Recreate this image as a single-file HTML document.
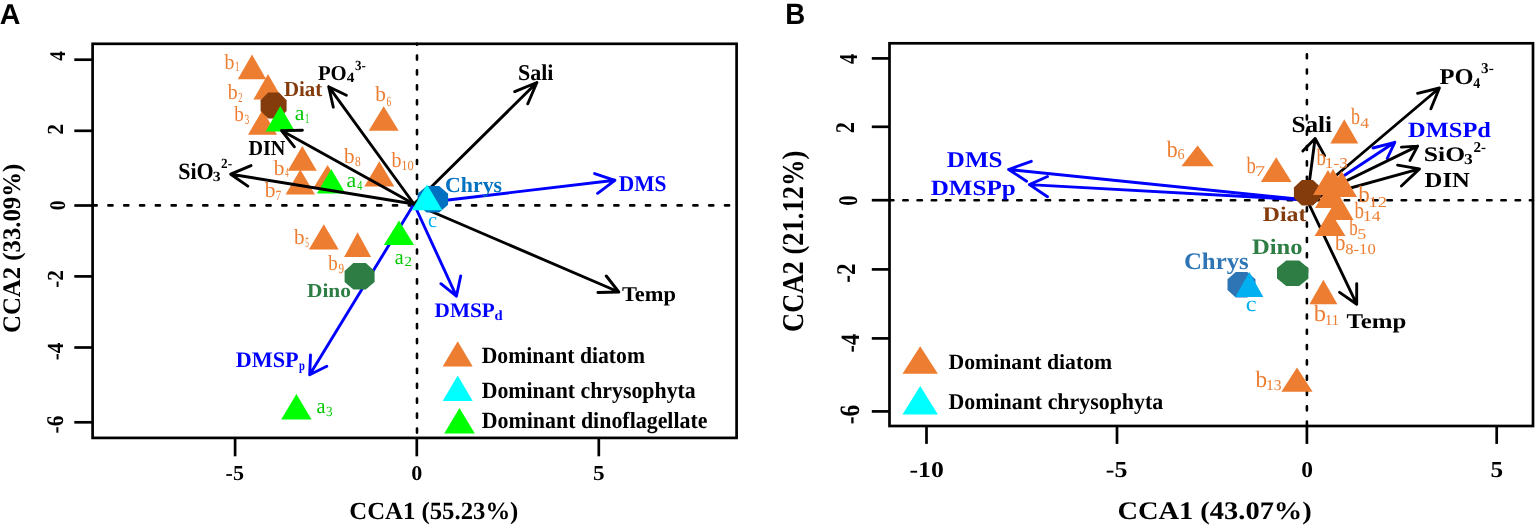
<!DOCTYPE html>
<html><head><meta charset="utf-8"><title>CCA biplots</title>
<style>html,body{margin:0;padding:0;background:#fff;}svg{display:block;}</style></head>
<body><svg width="1535" height="527" viewBox="0 0 1535 527" text-rendering="geometricPrecision"><rect x="92.6" y="43.8" width="644.0" height="394.09999999999997" fill="none" stroke="#000" stroke-width="2.7"/><line x1="74.3" y1="59.7" x2="92.6" y2="59.7" stroke="#000" stroke-width="2.7" /><line x1="74.3" y1="130.8" x2="92.6" y2="130.8" stroke="#000" stroke-width="2.7" /><line x1="74.3" y1="205.5" x2="92.6" y2="205.5" stroke="#000" stroke-width="2.7" /><line x1="74.3" y1="276.4" x2="92.6" y2="276.4" stroke="#000" stroke-width="2.7" /><line x1="74.3" y1="347.5" x2="92.6" y2="347.5" stroke="#000" stroke-width="2.7" /><line x1="74.3" y1="422.3" x2="92.6" y2="422.3" stroke="#000" stroke-width="2.7" /><line x1="235.1" y1="437.9" x2="235.1" y2="456.3" stroke="#000" stroke-width="2.7" /><line x1="416.8" y1="437.9" x2="416.8" y2="456.3" stroke="#000" stroke-width="2.7" /><line x1="598.8" y1="437.9" x2="598.8" y2="456.3" stroke="#000" stroke-width="2.7" /><line x1="92.6" y1="205.4" x2="736.6" y2="205.4" stroke="#000" stroke-width="2.6" stroke-dasharray="4.1 11.71" stroke-dashoffset="0" stroke-linecap="round"/><line x1="417.0" y1="43.8" x2="417.0" y2="437.9" stroke="#000" stroke-width="2.6" stroke-dasharray="4.1 10.82" stroke-dashoffset="3.22" stroke-linecap="round"/><rect x="889.5" y="43.3" width="643.5" height="382.7" fill="none" stroke="#000" stroke-width="2.7"/><line x1="871.8" y1="58.4" x2="889.5" y2="58.4" stroke="#000" stroke-width="2.7" /><line x1="871.8" y1="126.8" x2="889.5" y2="126.8" stroke="#000" stroke-width="2.7" /><line x1="871.8" y1="200.2" x2="889.5" y2="200.2" stroke="#000" stroke-width="2.7" /><line x1="871.8" y1="269.4" x2="889.5" y2="269.4" stroke="#000" stroke-width="2.7" /><line x1="871.8" y1="338.4" x2="889.5" y2="338.4" stroke="#000" stroke-width="2.7" /><line x1="871.8" y1="411.4" x2="889.5" y2="411.4" stroke="#000" stroke-width="2.7" /><line x1="926.5" y1="426.0" x2="926.5" y2="443.9" stroke="#000" stroke-width="2.7" /><line x1="1117.0" y1="426.0" x2="1117.0" y2="443.9" stroke="#000" stroke-width="2.7" /><line x1="1306.9" y1="426.0" x2="1306.9" y2="443.9" stroke="#000" stroke-width="2.7" /><line x1="1496.7" y1="426.0" x2="1496.7" y2="443.9" stroke="#000" stroke-width="2.7" /><line x1="889.5" y1="200.3" x2="1533.0" y2="200.3" stroke="#000" stroke-width="2.6" stroke-dasharray="4.4 9.84" stroke-dashoffset="0.44" stroke-linecap="round"/><line x1="1306.9" y1="43.3" x2="1306.9" y2="426.0" stroke="#000" stroke-width="2.6" stroke-dasharray="4.0 11.31" stroke-dashoffset="4.4" stroke-linecap="round"/><path d="M1307.0,200.0L1315.1,138.5M1302.8,150.9L1315.1,138.5L1324.6,155.6" stroke="#000" stroke-width="2.9" fill="none" stroke-linecap="round" stroke-linejoin="round"/><path d="M1307.0,200.0L1356.7,304.2M1356.7,283.8L1356.7,304.2L1339.6,292.4" stroke="#000" stroke-width="2.9" fill="none" stroke-linecap="round" stroke-linejoin="round"/><path d="M414.0,204.0L614.9,180.3M594.6,173.6L614.9,180.3L597.6,193.3" stroke="#0000FF" stroke-width="2.9" fill="none" stroke-linecap="round" stroke-linejoin="round"/><path d="M414.0,204.0L309.7,374.8M310.5,354.9L309.7,374.8L326.8,366.3" stroke="#0000FF" stroke-width="2.9" fill="none" stroke-linecap="round" stroke-linejoin="round"/><path d="M414.0,204.0L456.4,296.2M440.9,283.7L456.4,296.2L460.7,276.0" stroke="#0000FF" stroke-width="2.9" fill="none" stroke-linecap="round" stroke-linejoin="round"/><path d="M1307.0,200.0L1008.6,169.5M1031.3,161.3L1008.6,169.5L1026.6,181.2" stroke="#0000FF" stroke-width="2.9" fill="none" stroke-linecap="round" stroke-linejoin="round"/><path d="M1307.0,200.0L1029.4,184.6M1047.5,176.5L1029.4,184.6L1047.5,196.8" stroke="#0000FF" stroke-width="2.9" fill="none" stroke-linecap="round" stroke-linejoin="round"/><path d="M1307.0,200.0L1439.4,88.0M1417.6,93.3L1439.4,88.0L1430.9,108.8" stroke="#000" stroke-width="2.9" fill="none" stroke-linecap="round" stroke-linejoin="round"/><path d="M1307.0,200.0L1394.8,142.3M1373.0,148.0L1394.8,142.3L1387.2,158.5" stroke="#0000FF" stroke-width="2.9" fill="none" stroke-linecap="round" stroke-linejoin="round"/><path d="M1307.0,200.0L1417.6,146.1M1401.4,147.1L1417.6,146.1L1410.0,160.4" stroke="#000" stroke-width="2.9" fill="none" stroke-linecap="round" stroke-linejoin="round"/><path d="M1307.0,200.0L1419.5,168.9M1397.6,165.1L1419.5,168.9L1401.4,186.0" stroke="#000" stroke-width="2.9" fill="none" stroke-linecap="round" stroke-linejoin="round"/><polygon points="1320.9,198.0 1313.0,205.4 1301.8,205.4 1293.9,198.0 1293.9,187.5 1301.8,180.1 1313.0,180.1 1320.9,187.5" fill="#843C0C"/><polygon points="252.0,54.5 237.8,79.2 266.2,79.2" fill="#ED7D31"/><polygon points="268.0,74.0 253.4,99.5 282.6,99.5" fill="#ED7D31"/><polygon points="262.5,110.0 248.0,134.7 277.0,134.7" fill="#ED7D31"/><polygon points="302.3,146.0 287.8,170.8 316.8,170.8" fill="#ED7D31"/><polygon points="300.3,169.5 285.6,194.5 315.0,194.5" fill="#ED7D31"/><polygon points="327.6,165.0 313.4,188.0 341.8,188.0" fill="#ED7D31"/><polygon points="383.7,106.3 368.7,130.8 398.7,130.8" fill="#ED7D31"/><polygon points="379.3,161.3 364.3,186.5 394.3,186.5" fill="#ED7D31"/><polygon points="323.8,224.2 308.9,249.5 338.7,249.5" fill="#ED7D31"/><polygon points="357.6,232.2 344.1,257.1 371.1,257.1" fill="#ED7D31"/><polygon points="457.7,341.2 442.7,366.4 472.7,366.4" fill="#ED7D31"/><polygon points="457.7,375.5 442.7,401.0 472.7,401.0" fill="#00FFFF"/><polygon points="459.5,408.0 444.2,433.5 474.8,433.5" fill="#00FF00"/><polygon points="1197.6,145.5 1181.4,166.3 1213.8,166.3" fill="#ED7D31"/><polygon points="1276.2,157.2 1260.8,182.0 1291.6,182.0" fill="#ED7D31"/><polygon points="1344.3,119.3 1330.3,143.4 1358.3,143.4" fill="#ED7D31"/><polygon points="1328.0,170.0 1313.0,195.0 1343.0,195.0" fill="#ED7D31"/><polygon points="1333.0,169.0 1318.0,194.0 1348.0,194.0" fill="#ED7D31"/><polygon points="1341.5,171.0 1326.0,197.0 1357.0,197.0" fill="#ED7D31"/><polygon points="1330.0,183.0 1315.0,208.0 1345.0,208.0" fill="#ED7D31"/><polygon points="1339.0,195.0 1324.5,220.0 1353.5,220.0" fill="#ED7D31"/><polygon points="1330.0,211.0 1314.5,236.0 1345.5,236.0" fill="#ED7D31"/><polygon points="1323.4,279.7 1309.4,304.2 1337.4,304.2" fill="#ED7D31"/><polygon points="1297.0,367.5 1281.4,391.8 1312.6,391.8" fill="#ED7D31"/><polygon points="920.2,346.3 902.5,373.8 937.9,373.8" fill="#ED7D31"/><polygon points="920.2,386.0 902.5,414.6 937.9,414.6" fill="#00FFFF"/><polygon points="286.6,111.0 279.0,118.6 268.2,118.6 260.6,111.0 260.6,100.2 268.2,92.6 279.0,92.6 286.6,100.2" fill="#843C0C"/><polygon points="280.3,106.0 265.6,131.5 295.0,131.5" fill="#00FF00"/><polygon points="331.2,168.9 316.9,193.6 345.5,193.6" fill="#00FF00"/><polygon points="399.0,220.4 383.9,245.1 414.1,245.1" fill="#00FF00"/><polygon points="296.4,393.9 281.2,419.5 311.6,419.5" fill="#00FF00"/><path d="M414.0,204.0L328.7,86.7M333.3,107.2L328.7,86.7L346.4,95.2" stroke="#000" stroke-width="2.9" fill="none" stroke-linecap="round" stroke-linejoin="round"/><path d="M414.0,204.0L281.5,130.6M302.4,130.3L281.5,130.6L294.4,146.8" stroke="#000" stroke-width="2.9" fill="none" stroke-linecap="round" stroke-linejoin="round"/><path d="M414.0,204.0L230.7,174.2M251.0,165.6L230.7,174.2L247.8,186.1" stroke="#000" stroke-width="2.9" fill="none" stroke-linecap="round" stroke-linejoin="round"/><path d="M414.0,204.0L536.9,82.5M514.7,91.6L536.9,82.5L527.8,103.8" stroke="#000" stroke-width="2.9" fill="none" stroke-linecap="round" stroke-linejoin="round"/><path d="M414.0,204.0L618.8,292.0M606.3,276.0L618.8,292.0L597.9,292.5" stroke="#000" stroke-width="2.9" fill="none" stroke-linecap="round" stroke-linejoin="round"/><polygon points="374.6,281.9 365.8,289.6 353.4,289.6 344.6,281.9 344.6,270.9 353.4,263.1 365.8,263.1 374.6,270.9" fill="#2E7D45"/><polygon points="448.1,204.8 439.2,212.5 426.6,212.5 417.6,204.8 417.6,193.8 426.6,186.1 439.2,186.1 448.1,193.8" fill="#0070C0"/><polygon points="1308.4,278.6 1299.2,286.1 1286.2,286.1 1277.0,278.6 1277.0,268.0 1286.2,260.6 1299.2,260.6 1308.4,268.0" fill="#2E7D45"/><polygon points="1255.5,289.9 1247.3,297.4 1235.7,297.4 1227.5,289.9 1227.5,279.3 1235.7,271.9 1247.3,271.9 1255.5,279.3" fill="#2E75B6"/><polygon points="427.0,184.5 411.7,210.2 442.3,210.2" fill="#00FFFF"/><polygon points="1249.3,271.9 1235.3,297.0 1263.3,297.0" fill="#00B0F0"/><text transform="translate(-0.16,23.60) scale(0.9979,1)" font-family="'Liberation Sans', sans-serif" font-weight="bold" font-size="28.70" fill="#000">A</text><text transform="translate(349.36,518.80) scale(1.0006,1)" font-family="'Liberation Serif', serif" font-weight="bold" font-size="24.73" fill="#000">CCA1 (55.23%)</text><text transform="translate(19.70,332.94) rotate(-90) scale(0.9789,1)" font-family="'Liberation Serif', serif" font-weight="bold" font-size="25.30" fill="#000">CCA2 (33.09%)</text><text transform="translate(225.52,479.90) scale(1.0412,1)" font-family="'Liberation Serif', serif" font-weight="bold" font-size="21.23" fill="#000">-5</text><text transform="translate(411.21,479.90) scale(1.0590,1)" font-family="'Liberation Serif', serif" font-weight="bold" font-size="20.91" fill="#000">0</text><text transform="translate(592.97,479.90) scale(1.0990,1)" font-family="'Liberation Serif', serif" font-weight="bold" font-size="21.23" fill="#000">5</text><text transform="translate(64.70,60.69) rotate(-90) scale(0.8634,1)" font-family="'Liberation Serif', serif" font-weight="bold" font-size="22.42" fill="#000">4</text><text transform="translate(62.80,134.77) rotate(-90) scale(0.9408,1)" font-family="'Liberation Serif', serif" font-weight="bold" font-size="23.03" fill="#000">2</text><text transform="translate(64.60,210.19) rotate(-90) scale(0.8813,1)" font-family="'Liberation Serif', serif" font-weight="bold" font-size="22.42" fill="#000">0</text><text transform="translate(62.80,287.75) rotate(-90) scale(0.9205,1)" font-family="'Liberation Serif', serif" font-weight="bold" font-size="23.03" fill="#000">-2</text><text transform="translate(62.80,360.35) rotate(-90) scale(0.9192,1)" font-family="'Liberation Serif', serif" font-weight="bold" font-size="23.03" fill="#000">-4</text><text transform="translate(63.30,433.46) rotate(-90) scale(0.8959,1)" font-family="'Liberation Serif', serif" font-weight="bold" font-size="23.94" fill="#000">-6</text><text transform="translate(481.67,363.20) scale(0.9349,1)" font-family="'Liberation Serif', serif" font-weight="bold" font-size="23.21" fill="#000">Dominant diatom</text><text transform="translate(481.66,397.70) scale(0.9408,1)" font-family="'Liberation Serif', serif" font-weight="bold" font-size="23.21" fill="#000">Dominant chrysophyta</text><text transform="translate(481.66,427.80) scale(0.9446,1)" font-family="'Liberation Serif', serif" font-weight="bold" font-size="23.21" fill="#000">Dominant dinoflagellate</text><text transform="translate(317.88,79.90) scale(0.9852,1)" font-family="'Liberation Serif', serif" font-weight="bold" font-size="21.07" fill="#000">PO</text><text transform="translate(346.85,82.40) scale(1.0942,1)" font-family="'Liberation Serif', serif" font-weight="bold" font-size="14.00" fill="#000">4</text><text transform="translate(354.88,70.10) scale(0.9305,1)" font-family="'Liberation Serif', serif" font-weight="bold" font-size="14.00" fill="#000">3-</text><text transform="translate(283.88,96.30) scale(0.9727,1)" font-family="'Liberation Serif', serif" font-weight="bold" font-size="21.53" fill="#843C0C">Diat</text><text transform="translate(518.00,79.50) scale(0.9736,1)" font-family="'Liberation Serif', serif" font-weight="bold" font-size="22.60" fill="#000">Sali</text><text transform="translate(618.77,190.90) scale(0.9487,1)" font-family="'Liberation Serif', serif" font-weight="bold" font-size="22.60" fill="#0000FF">DMS</text><text transform="translate(445.11,191.80) scale(1.0061,1)" font-family="'Liberation Serif', serif" font-weight="bold" font-size="21.68" fill="#0070C0">Chrys</text><text transform="translate(428.09,227.30) scale(0.9428,1)" font-family="'Liberation Serif', serif" font-weight="normal" font-size="21.50" fill="#00B0F0">c</text><text transform="translate(248.40,154.80) scale(0.9503,1)" font-family="'Liberation Serif', serif" font-weight="bold" font-size="21.22" fill="#000">DIN</text><text transform="translate(178.20,178.50) scale(0.9441,1)" font-family="'Liberation Serif', serif" font-weight="bold" font-size="23.36" fill="#000">SiO</text><text transform="translate(212.77,180.80) scale(1.1296,1)" font-family="'Liberation Serif', serif" font-weight="bold" font-size="14.00" fill="#000">3</text><text transform="translate(221.07,167.50) scale(0.9398,1)" font-family="'Liberation Serif', serif" font-weight="bold" font-size="14.00" fill="#000">2-</text><text transform="translate(621.95,301.00) scale(1.0664,1)" font-family="'Liberation Serif', serif" font-weight="bold" font-size="21.07" fill="#000">Temp</text><text transform="translate(434.57,316.50) scale(1.0256,1)" font-family="'Liberation Serif', serif" font-weight="bold" font-size="20.76" fill="#0000FF">DMSP</text><text transform="translate(494.62,320.20) scale(1.0429,1)" font-family="'Liberation Serif', serif" font-weight="bold" font-size="14.00" fill="#0000FF">d</text><text transform="translate(235.66,366.90) scale(1.0042,1)" font-family="'Liberation Serif', serif" font-weight="bold" font-size="22.14" fill="#0000FF">DMSP</text><text transform="translate(298.89,370.00) scale(0.7563,1)" font-family="'Liberation Serif', serif" font-weight="bold" font-size="14.00" fill="#0000FF">p</text><text transform="translate(306.97,297.30) scale(1.0866,1)" font-family="'Liberation Serif', serif" font-weight="bold" font-size="19.69" fill="#2E7D45">Dino</text><text transform="translate(224.60,69.30) scale(0.9201,1)" font-family="'Liberation Serif', serif" font-weight="normal" font-size="21.50" fill="#ED7D31">b</text><text transform="translate(234.63,71.40) scale(0.6939,1)" font-family="'Liberation Serif', serif" font-weight="normal" font-size="14.00" fill="#ED7D31">1</text><text transform="translate(227.70,99.00) scale(0.9201,1)" font-family="'Liberation Serif', serif" font-weight="normal" font-size="21.50" fill="#ED7D31">b</text><text transform="translate(238.26,101.70) scale(0.6071,1)" font-family="'Liberation Serif', serif" font-weight="normal" font-size="14.00" fill="#ED7D31">2</text><text transform="translate(234.30,120.80) scale(0.8898,1)" font-family="'Liberation Serif', serif" font-weight="normal" font-size="21.50" fill="#ED7D31">b</text><text transform="translate(244.42,123.50) scale(0.6794,1)" font-family="'Liberation Serif', serif" font-weight="normal" font-size="14.00" fill="#ED7D31">3</text><text transform="translate(273.80,174.60) scale(0.9909,1)" font-family="'Liberation Serif', serif" font-weight="normal" font-size="21.50" fill="#ED7D31">b</text><text transform="translate(285.26,177.30) scale(0.4969,1)" font-family="'Liberation Serif', serif" font-weight="normal" font-size="14.00" fill="#ED7D31">4</text><text transform="translate(264.70,197.00) scale(1.0010,1)" font-family="'Liberation Serif', serif" font-weight="normal" font-size="21.50" fill="#ED7D31">b</text><text transform="translate(275.59,199.70) scale(0.8214,1)" font-family="'Liberation Serif', serif" font-weight="normal" font-size="14.00" fill="#ED7D31">7</text><text transform="translate(375.20,101.20) scale(0.9909,1)" font-family="'Liberation Serif', serif" font-weight="normal" font-size="21.50" fill="#ED7D31">b</text><text transform="translate(386.42,105.50) scale(0.6811,1)" font-family="'Liberation Serif', serif" font-weight="normal" font-size="14.00" fill="#ED7D31">6</text><text transform="translate(343.90,163.20) scale(0.9808,1)" font-family="'Liberation Serif', serif" font-weight="normal" font-size="21.50" fill="#ED7D31">b</text><text transform="translate(354.94,166.40) scale(0.8163,1)" font-family="'Liberation Serif', serif" font-weight="normal" font-size="14.00" fill="#ED7D31">8</text><text transform="translate(391.40,167.00) scale(0.9302,1)" font-family="'Liberation Serif', serif" font-weight="normal" font-size="21.50" fill="#ED7D31">b</text><text transform="translate(401.27,170.00) scale(0.8949,1)" font-family="'Liberation Serif', serif" font-weight="normal" font-size="14.00" fill="#ED7D31">10</text><text transform="translate(294.10,244.20) scale(0.9808,1)" font-family="'Liberation Serif', serif" font-weight="normal" font-size="21.50" fill="#ED7D31">b</text><text transform="translate(305.16,247.00) scale(0.5179,1)" font-family="'Liberation Serif', serif" font-weight="normal" font-size="14.00" fill="#ED7D31">5</text><text transform="translate(328.30,269.80) scale(0.8797,1)" font-family="'Liberation Serif', serif" font-weight="normal" font-size="21.50" fill="#ED7D31">b</text><text transform="translate(338.47,272.60) scale(0.7973,1)" font-family="'Liberation Serif', serif" font-weight="normal" font-size="14.00" fill="#ED7D31">9</text><text transform="translate(294.73,120.00) scale(1.0137,1)" font-family="'Liberation Serif', serif" font-weight="normal" font-size="21.50" fill="#00C800">a</text><text transform="translate(304.95,122.60) scale(0.5918,1)" font-family="'Liberation Serif', serif" font-weight="normal" font-size="14.00" fill="#00C800">1</text><text transform="translate(346.43,186.90) scale(1.0137,1)" font-family="'Liberation Serif', serif" font-weight="normal" font-size="21.50" fill="#00C800">a</text><text transform="translate(357.20,189.50) scale(0.7298,1)" font-family="'Liberation Serif', serif" font-weight="normal" font-size="14.00" fill="#00C800">4</text><text transform="translate(394.80,263.50) scale(0.9302,1)" font-family="'Liberation Serif', serif" font-weight="normal" font-size="21.50" fill="#00C800">a</text><text transform="translate(404.40,266.10) scale(1.0714,1)" font-family="'Liberation Serif', serif" font-weight="normal" font-size="14.00" fill="#00C800">2</text><text transform="translate(316.39,413.00) scale(0.9422,1)" font-family="'Liberation Serif', serif" font-weight="normal" font-size="21.50" fill="#00C800">a</text><text transform="translate(326.04,415.60) scale(0.9408,1)" font-family="'Liberation Serif', serif" font-weight="normal" font-size="14.00" fill="#00C800">3</text><text transform="translate(785.36,23.80) scale(0.9417,1)" font-family="'Liberation Sans', sans-serif" font-weight="bold" font-size="29.42" fill="#000">B</text><text transform="translate(1117.38,519.00) scale(1.1234,1)" font-family="'Liberation Serif', serif" font-weight="bold" font-size="25.34" fill="#000">CCA1 (43.07%)</text><text transform="translate(803.00,331.93) rotate(-90) scale(0.8782,1)" font-family="'Liberation Serif', serif" font-weight="bold" font-size="30.21" fill="#000">CCA2 (21.12%)</text><text transform="translate(909.47,476.60) scale(1.1488,1)" font-family="'Liberation Serif', serif" font-weight="bold" font-size="22.42" fill="#000">-10</text><text transform="translate(1105.86,476.60) scale(1.1384,1)" font-family="'Liberation Serif', serif" font-weight="bold" font-size="22.77" fill="#000">-5</text><text transform="translate(1301.26,476.60) scale(1.0512,1)" font-family="'Liberation Serif', serif" font-weight="bold" font-size="22.42" fill="#000">0</text><text transform="translate(1490.39,476.60) scale(1.1084,1)" font-family="'Liberation Serif', serif" font-weight="bold" font-size="22.77" fill="#000">5</text><text transform="translate(857.30,64.10) rotate(-90) scale(0.7847,1)" font-family="'Liberation Serif', serif" font-weight="bold" font-size="25.76" fill="#000">4</text><text transform="translate(854.30,133.20) rotate(-90) scale(0.8299,1)" font-family="'Liberation Serif', serif" font-weight="bold" font-size="26.97" fill="#000">2</text><text transform="translate(857.20,205.63) rotate(-90) scale(0.7681,1)" font-family="'Liberation Serif', serif" font-weight="bold" font-size="26.97" fill="#000">0</text><text transform="translate(854.50,282.63) rotate(-90) scale(0.8602,1)" font-family="'Liberation Serif', serif" font-weight="bold" font-size="26.97" fill="#000">-2</text><text transform="translate(858.50,352.39) rotate(-90) scale(0.8376,1)" font-family="'Liberation Serif', serif" font-weight="bold" font-size="26.52" fill="#000">-4</text><text transform="translate(859.20,424.34) rotate(-90) scale(0.8356,1)" font-family="'Liberation Serif', serif" font-weight="bold" font-size="28.03" fill="#000">-6</text><text transform="translate(948.47,368.60) scale(1.0032,1)" font-family="'Liberation Serif', serif" font-weight="bold" font-size="21.68" fill="#000">Dominant diatom</text><text transform="translate(948.46,408.90) scale(0.9694,1)" font-family="'Liberation Serif', serif" font-weight="bold" font-size="22.60" fill="#000">Dominant chrysophyta</text><text transform="translate(946.80,167.00) scale(1.1105,1)" font-family="'Liberation Serif', serif" font-weight="bold" font-size="22.60" fill="#0000FF">DMS</text><text transform="translate(930.70,194.90) scale(1.1580,1)" font-family="'Liberation Serif', serif" font-weight="bold" font-size="21.68" fill="#0000FF">DMSPp</text><text transform="translate(1291.44,132.00) scale(1.0870,1)" font-family="'Liberation Serif', serif" font-weight="bold" font-size="23.21" fill="#000">Sali</text><text transform="translate(1439.41,84.20) scale(1.0863,1)" font-family="'Liberation Serif', serif" font-weight="bold" font-size="22.60" fill="#000">PO</text><text transform="translate(1473.16,87.60) scale(0.9362,1)" font-family="'Liberation Serif', serif" font-weight="bold" font-size="15.00" fill="#000">4</text><text transform="translate(1481.09,73.10) scale(1.0088,1)" font-family="'Liberation Serif', serif" font-weight="bold" font-size="15.00" fill="#000">3-</text><text transform="translate(1408.11,136.80) scale(1.1271,1)" font-family="'Liberation Serif', serif" font-weight="bold" font-size="21.68" fill="#0000FF">DMSPd</text><text transform="translate(1423.82,160.90) scale(1.2435,1)" font-family="'Liberation Serif', serif" font-weight="bold" font-size="20.61" fill="#000">SiO</text><text transform="translate(1464.10,164.10) scale(1.1628,1)" font-family="'Liberation Serif', serif" font-weight="bold" font-size="15.00" fill="#000">3</text><text transform="translate(1473.49,152.10) scale(1.0088,1)" font-family="'Liberation Serif', serif" font-weight="bold" font-size="15.00" fill="#000">2-</text><text transform="translate(1424.61,186.90) scale(1.1624,1)" font-family="'Liberation Serif', serif" font-weight="bold" font-size="21.22" fill="#000">DIN</text><text transform="translate(1262.72,221.30) scale(1.1468,1)" font-family="'Liberation Serif', serif" font-weight="bold" font-size="20.76" fill="#843C0C">Diat</text><text transform="translate(1183.96,268.50) scale(1.0481,1)" font-family="'Liberation Serif', serif" font-weight="bold" font-size="23.66" fill="#2E75B6">Chrys</text><text transform="translate(1245.73,311.10) scale(1.1057,1)" font-family="'Liberation Serif', serif" font-weight="normal" font-size="22.00" fill="#00B0F0">c</text><text transform="translate(1251.91,254.20) scale(1.1212,1)" font-family="'Liberation Serif', serif" font-weight="bold" font-size="21.98" fill="#2E7D45">Dino</text><text transform="translate(1346.40,327.50) scale(1.1881,1)" font-family="'Liberation Serif', serif" font-weight="bold" font-size="20.92" fill="#000">Temp</text><text transform="translate(1166.80,156.50) scale(0.9251,1)" font-family="'Liberation Serif', serif" font-weight="normal" font-size="23.50" fill="#ED7D31">b</text><text transform="translate(1177.53,158.60) scale(0.9457,1)" font-family="'Liberation Serif', serif" font-weight="normal" font-size="15.00" fill="#ED7D31">6</text><text transform="translate(1246.50,172.60) scale(0.7956,1)" font-family="'Liberation Serif', serif" font-weight="normal" font-size="23.50" fill="#ED7D31">b</text><text transform="translate(1254.98,176.40) scale(1.3500,1)" font-family="'Liberation Serif', serif" font-weight="normal" font-size="15.00" fill="#ED7D31">7</text><text transform="translate(1351.00,123.60) scale(0.7678,1)" font-family="'Liberation Serif', serif" font-weight="normal" font-size="23.50" fill="#ED7D31">b</text><text transform="translate(1360.24,127.80) scale(1.1884,1)" font-family="'Liberation Serif', serif" font-weight="normal" font-size="15.00" fill="#ED7D31">4</text><text transform="translate(1316.40,165.10) scale(0.8048,1)" font-family="'Liberation Serif', serif" font-weight="normal" font-size="23.50" fill="#ED7D31">b</text><text transform="translate(1324.86,168.00) scale(1.1444,1)" font-family="'Liberation Serif', serif" font-weight="normal" font-size="15.00" fill="#ED7D31">1-3</text><text transform="translate(1358.20,202.10) scale(0.9806,1)" font-family="'Liberation Serif', serif" font-weight="normal" font-size="23.50" fill="#ED7D31">b</text><text transform="translate(1368.43,206.90) scale(1.2392,1)" font-family="'Liberation Serif', serif" font-weight="normal" font-size="15.00" fill="#ED7D31">12</text><text transform="translate(1354.40,217.70) scale(0.8048,1)" font-family="'Liberation Serif', serif" font-weight="normal" font-size="23.50" fill="#ED7D31">b</text><text transform="translate(1362.80,221.00) scale(1.1835,1)" font-family="'Liberation Serif', serif" font-weight="normal" font-size="15.00" fill="#ED7D31">14</text><text transform="translate(1349.20,234.70) scale(0.7216,1)" font-family="'Liberation Serif', serif" font-weight="normal" font-size="23.50" fill="#ED7D31">b</text><text transform="translate(1357.22,238.50) scale(1.2000,1)" font-family="'Liberation Serif', serif" font-weight="normal" font-size="15.00" fill="#ED7D31">5</text><text transform="translate(1335.00,249.90) scale(0.8881,1)" font-family="'Liberation Serif', serif" font-weight="normal" font-size="23.50" fill="#ED7D31">b</text><text transform="translate(1345.23,253.70) scale(1.1086,1)" font-family="'Liberation Serif', serif" font-weight="normal" font-size="15.00" fill="#ED7D31">8-10</text><text transform="translate(1313.80,321.30) scale(1.0453,1)" font-family="'Liberation Serif', serif" font-weight="normal" font-size="23.50" fill="#ED7D31">b</text><text transform="translate(1325.10,324.70) scale(0.9630,1)" font-family="'Liberation Serif', serif" font-weight="normal" font-size="15.00" fill="#ED7D31">11</text><text transform="translate(1255.40,386.80) scale(0.9898,1)" font-family="'Liberation Serif', serif" font-weight="normal" font-size="23.50" fill="#ED7D31">b</text><text transform="translate(1265.99,390.40) scale(1.0421,1)" font-family="'Liberation Serif', serif" font-weight="normal" font-size="15.00" fill="#ED7D31">13</text></svg></body></html>
